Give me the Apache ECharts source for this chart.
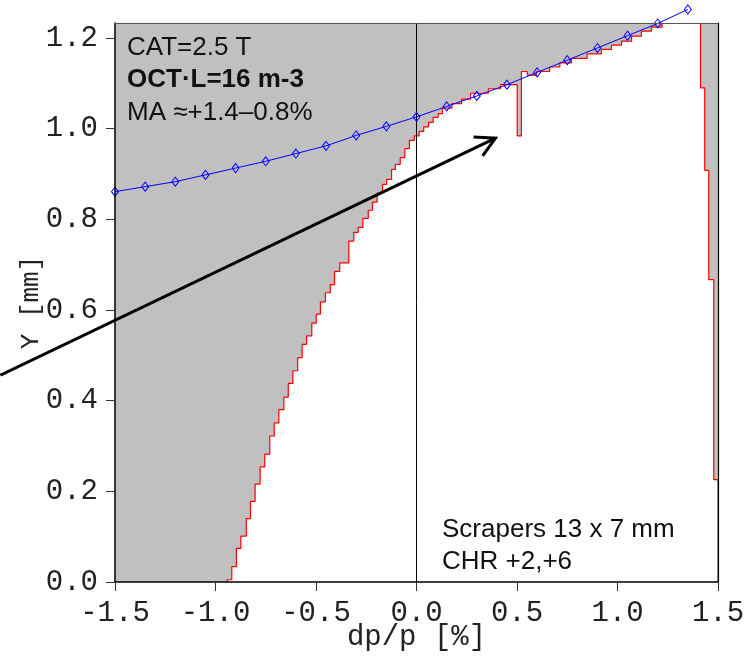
<!DOCTYPE html>
<html>
<head>
<meta charset="utf-8">
<script src="https://cdn.jsdelivr.net/npm/echarts@6/dist/echarts.min.js"></script>
<style>html,body{margin:0;padding:0;background:#fff}#c{width:748px;height:665px}</style>
</head>
<body>
<div id="c"></div>
<script>
// ---- data ----
const xTicks = [-1.5, -1.0, -0.5, 0.0, 0.5, 1.0, 1.5];
const yTicks = [0.0, 0.2, 0.4, 0.6, 0.8, 1.0, 1.2];
const xMin = -1.5, xMax = 1.5, yMin = 0, yMax = 1.233;

// blue reference curve (diamonds)
const blueX = [-1.5,-1.35,-1.2,-1.05,-0.9,-0.75,-0.6,-0.45,-0.3,-0.15,0,0.15,0.3,0.45,0.6,0.75,0.9,1.05,1.2,1.35];
const blueY = [0.861,0.872,0.883,0.898,0.913,0.928,0.945,0.962,0.985,1.005,1.026,1.049,1.072,1.097,1.124,1.151,1.178,1.205,1.232,1.263];

// left acceptance boundary: step vertices (vertical at leftX[k] from leftY[k] to leftY[k+1])
const leftX = [-0.942,-0.919,-0.896,-0.874,-0.847,-0.826,-0.803,-0.778,-0.755,-0.730,
               -0.708,-0.685,-0.660,-0.638,-0.615,-0.591,-0.569,-0.547,-0.521,-0.499,
               -0.478,-0.453,-0.429,-0.408,-0.382,-0.337,-0.312,-0.290,-0.267,-0.240,
               -0.219,-0.196,-0.169,-0.149,-0.124,-0.105,-0.081,-0.058,-0.035,-0.011,
               0.013,0.036,0.060,0.083,0.108,0.129,0.176,0.224,0.269,0.358,
               0.418,0.501,0.522,0.551,0.597,0.663,0.713,0.771,0.849,0.920,
               0.970,1.020,1.070,1.119,1.169,1.222,1.222];
const leftY = [0,0.005,0.034,0.074,0.101,0.140,0.178,0.216,0.254,0.282,
               0.322,0.351,0.380,0.408,0.438,0.466,0.495,0.524,0.543,0.571,
               0.591,0.618,0.638,0.656,0.685,0.704,0.752,0.771,0.782,0.802,
               0.820,0.838,0.858,0.877,0.888,0.910,0.921,0.936,0.956,0.974,
               0.984,0.994,1.004,1.014,1.025,1.033,1.045,1.055,1.065,1.078,
               1.088,1.097,0.984,1.126,1.118,1.126,1.136,1.145,1.155,1.165,
               1.175,1.184,1.193,1.204,1.215,1.224,1.233];

// right acceptance boundary: vertical at rightX[k] going down to rightY[k]
const rightX = [1.413, 1.434, 1.454, 1.479, 1.5];
const rightY = [1.090, 0.908, 0.667, 0.226, 0];

// arrow annotation (data coords): start, tip
const arrowFrom = [-2.07, 0.456];
const arrowTo = [0.393, 0.979];

// ---- geometry built from the data ----
function leftPath() {
  const pts = [[leftX[0], leftY[0]]];
  for (let k = 0; k < leftX.length - 1; k++) {
    pts.push([leftX[k], leftY[k + 1]]);
    pts.push([leftX[k + 1], leftY[k + 1]]);
  }
  return pts;
}
function rightPath() {
  const pts = [[rightX[0], yMax]];
  for (let k = 0; k < rightX.length; k++) {
    pts.push([rightX[k], rightY[k]]);
    if (k < rightX.length - 1) pts.push([rightX[k + 1], rightY[k]]);
  }
  return pts;
}
const L = leftPath();
const R = rightPath();
const poly = L.concat(R);
const blueData = blueX.map((x, i) => [x, blueY[i]]);

const monoFont = '"Liberation Mono", "DejaVu Sans Mono", monospace';
const sansFont = '"Liberation Sans", Arial, sans-serif';

const chart = echarts.init(document.getElementById('c'), null, {renderer: 'canvas'});
chart.setOption({
  animation: false,
  backgroundColor: '#ffffff',
  grid: {left: 115, right: 30, top: 23, bottom: 83, show: true, backgroundColor: '#c0c0c0', borderWidth: 0},
  xAxis: [{
    type: 'value', min: xMin, max: xMax, interval: 0.5, z: 10,
    name: 'dp/p [%]', nameLocation: 'middle', nameGap: 41, nameMoveOverlap: false,
    nameTextStyle: {fontFamily: monoFont, fontSize: 29, color: '#222'},
    axisLine: {show: true, onZero: false, lineStyle: {color: '#000', width: 1.5}},
    axisTick: {show: true, length: 9, lineStyle: {color: '#333', width: 1}},
    axisLabel: {fontFamily: monoFont, fontSize: 29, color: '#222', margin: 17,
      formatter: v => v.toFixed(1)},
    splitLine: {show: false}
  }, {
    type: 'value', min: xMin, max: xMax, position: 'top', z: 10,
    axisLine: {show: true, onZero: false, lineStyle: {color: '#555', width: 1}},
    axisTick: {show: false}, axisLabel: {show: false}, splitLine: {show: false}
  }],
  yAxis: [{
    type: 'value', min: yMin, max: yMax, z: 10,
    name: 'Y [mm]', nameLocation: 'middle', nameGap: 71, nameMoveOverlap: false,
    nameTextStyle: {fontFamily: monoFont, fontSize: 26, color: '#222'},
    axisLine: {show: true, onZero: false, lineStyle: {color: '#000', width: 1.5}},
    axisTick: {show: true, length: 9, customValues: yTicks, lineStyle: {color: '#333', width: 1}},
    axisLabel: {fontFamily: monoFont, fontSize: 29, color: '#222', margin: 17,
      customValues: yTicks, formatter: v => v.toFixed(1)},
    splitLine: {show: false}
  }, {
    type: 'value', min: yMin, max: yMax, position: 'right', z: 10,
    axisLine: {show: true, onZero: false, lineStyle: {color: '#000', width: 1.2}},
    axisTick: {show: false}, axisLabel: {show: false}, splitLine: {show: false}
  }],
  series: [
    {
      type: 'custom', name: 'accepted', z: 1, clip: true,
      data: [[0, 0]],
      renderItem: (params, api) => ({
        type: 'polygon',
        shape: {points: poly.map(p => api.coord(p))},
        style: {fill: '#ffffff', stroke: null}
      })
    },
    {
      type: 'line', name: 'left', z: 3, data: L, symbol: 'none', clip: false,
      lineStyle: {color: '#ff0000', width: 1.2},
      markLine: {
        silent: true, symbol: 'none', label: {show: false},
        lineStyle: {color: '#000', width: 1, type: 'solid'},
        data: [{xAxis: 0}]
      }
    },
    {
      type: 'line', name: 'right', z: 3, data: R, symbol: 'none', clip: false,
      lineStyle: {color: '#ff0000', width: 1.2}
    },
    {
      type: 'line', name: 'blue', z: 5, data: blueData, clip: false,
      symbol: 'diamond', symbolSize: [7, 9],
      lineStyle: {color: '#0000ff', width: 1},
      itemStyle: {color: 'rgba(0,0,0,0)', borderColor: '#0000ff', borderWidth: 1}
    },
    {
      type: 'custom', name: 'arrow', z: 6, clip: false,
      data: [[arrowFrom[0], arrowFrom[1], arrowTo[0], arrowTo[1]]],
      renderItem: (params, api) => {
        const p0 = api.coord([api.value(0), api.value(1)]);
        const p1 = api.coord([api.value(2), api.value(3)]);
        const ang = Math.atan2(p0[1] - p1[1], p0[0] - p1[0]);
        const a = 28.5 * Math.PI / 180, len = 22;
        const arm = s => [p1[0] + len * Math.cos(ang + s * a), p1[1] + len * Math.sin(ang + s * a)];
        const st = {stroke: '#000', lineWidth: 3, fill: null};
        return {type: 'group', children: [
          {type: 'line', shape: {x1: p0[0], y1: p0[1], x2: p1[0], y2: p1[1]}, style: st},
          {type: 'polyline', shape: {points: [arm(1), p1, arm(-1)]}, style: st}
        ]};
      }
    }
  ],
  graphic: [
    {type: 'text', z: 20, style: {x: 127, y: 35, text: 'CAT=2.5 T', font: '26px ' + sansFont, fill: '#111'}},
    {type: 'text', z: 20, style: {x: 127, y: 67, text: 'OCT·L=16 m-3', font: 'bold 26px ' + sansFont, fill: '#111'}},
    {type: 'text', z: 20, style: {x: 127, y: 100, text: 'MA ≈+1.4–0.8%', font: '26px ' + sansFont, fill: '#111'}},
    {type: 'text', z: 20, style: {x: 442, y: 517, text: 'Scrapers 13 x 7 mm', font: '26px ' + sansFont, fill: '#111'}},
    {type: 'text', z: 20, style: {x: 442, y: 549, text: 'CHR +2,+6', font: '26px ' + sansFont, fill: '#111'}}
  ]
});
</script>
</body>
</html>
